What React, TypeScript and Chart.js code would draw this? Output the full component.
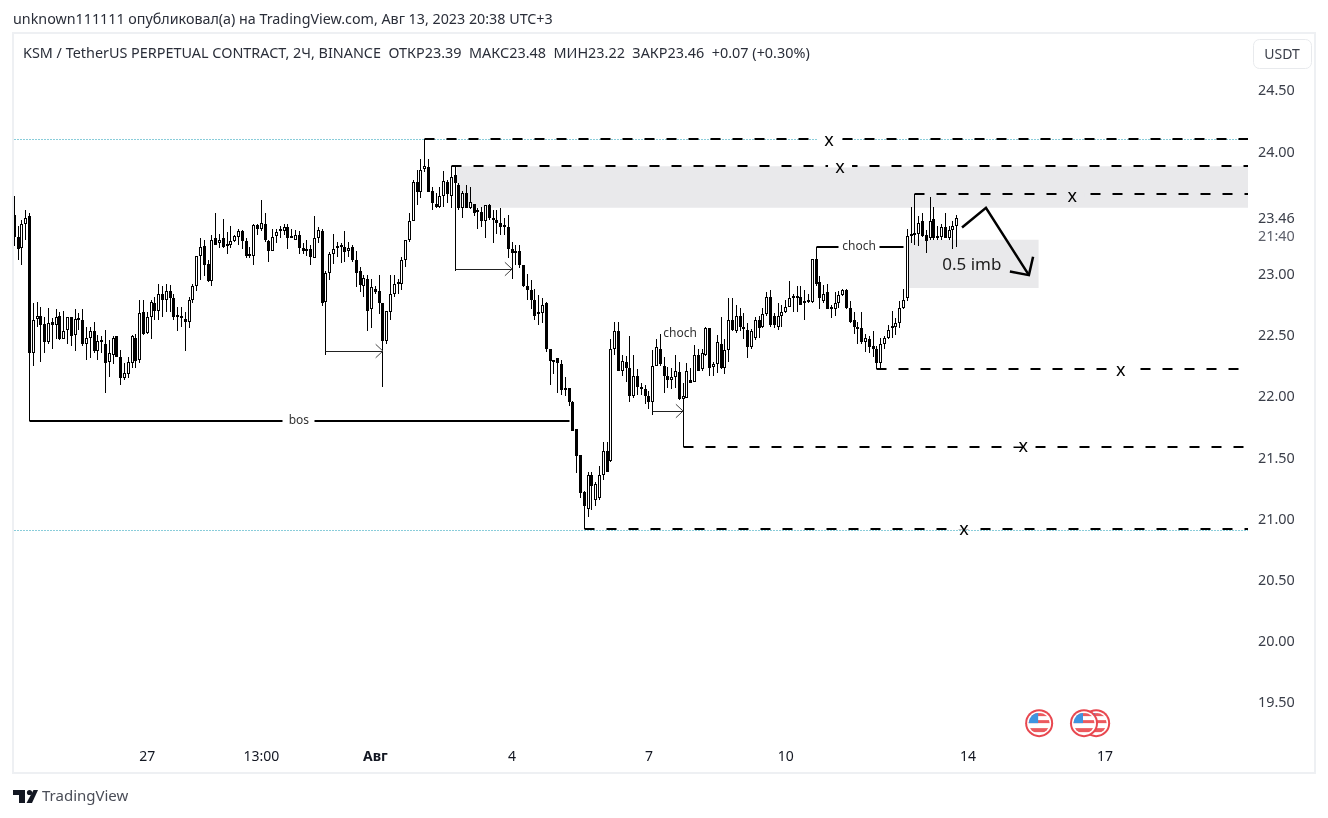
import React, { useEffect, useRef } from "react";
import { Chart, registerables } from "chart.js";

Chart.register(...registerables);

const opens = [
  23.48,23.30,23.21,23.41,23.47,22.35,22.63,22.66,22.59,22.44,
  22.61,22.58,22.66,22.47,22.54,22.65,22.50,22.63,22.62,22.43,
  22.48,22.53,22.37,22.45,22.43,22.28,22.34,22.49,22.32,22.15,
  22.18,22.27,22.48,22.30,22.69,22.52,22.65,22.76,22.70,22.84,
  22.79,22.86,22.80,22.66,22.66,22.63,22.61,22.79,22.90,23.15,
  23.23,23.08,22.94,23.29,23.25,23.29,23.23,23.24,23.27,23.30,
  23.35,23.27,23.16,23.15,23.40,23.37,23.41,23.27,23.19,23.31,
  23.35,23.35,23.38,23.30,23.28,23.32,23.21,23.20,23.20,23.13,
  23.29,23.35,22.77,23.01,23.16,23.21,23.22,23.22,23.19,23.22,
  23.11,23.02,22.90,22.96,22.71,22.88,22.86,22.76,22.45,22.69,
  22.84,22.93,22.92,23.11,23.28,23.43,23.75,23.67,23.86,23.87,
  23.68,23.57,23.55,23.64,23.75,23.64,23.81,23.73,23.54,23.66,
  23.54,23.57,23.52,23.51,23.43,23.56,23.44,23.44,23.42,23.39,
  23.38,23.20,23.17,23.19,23.07,22.90,22.87,22.79,22.67,22.68,
  22.76,22.39,22.29,22.31,22.26,22.05,22.07,21.95,21.73,21.52,
  21.22,21.08,21.36,21.15,21.17,21.36,21.55,21.47,22.39,22.53,
  22.21,22.28,22.23,22.00,22.17,22.07,22.06,22.00,21.95,22.25,
  22.39,22.25,22.17,22.13,22.16,22.20,21.98,21.99,22.13,22.12,
  22.34,22.22,22.34,22.56,22.24,22.26,22.43,22.23,22.38,22.62,
  22.53,22.66,22.56,22.54,22.40,22.48,22.62,22.57,22.67,22.81,
  22.66,22.57,22.66,22.69,22.73,22.80,22.81,22.81,22.77,22.77,
  22.77,23.12,22.93,22.78,22.85,22.71,22.71,22.76,22.83,22.87,
  22.72,22.62,22.57,22.56,22.44,22.47,22.41,22.39,22.27,22.43,
  22.48,22.56,22.57,22.60,22.72,22.80,23.31,23.33,23.33,23.43,
  23.32,23.29,23.45,23.29,23.30,23.38,23.29,23.36,23.39,
];
const highs = [
  23.64,23.39,23.44,23.52,23.50,22.76,22.77,22.73,22.65,22.72,
  22.64,22.71,22.69,22.70,22.65,22.65,22.71,22.68,22.71,22.57,
  22.57,22.61,22.50,22.49,22.54,22.46,22.49,22.49,22.38,22.27,
  22.32,22.50,22.51,22.79,22.79,22.69,22.79,22.81,22.92,22.90,
  22.92,22.91,22.84,22.73,22.73,22.69,22.81,22.92,23.15,23.29,
  23.28,23.11,23.32,23.50,23.33,23.45,23.34,23.39,23.32,23.37,
  23.36,23.29,23.22,23.41,23.41,23.60,23.50,23.28,23.37,23.37,
  23.39,23.41,23.41,23.37,23.36,23.35,23.25,23.28,23.24,23.47,
  23.38,23.37,23.02,23.18,23.33,23.26,23.25,23.35,23.26,23.24,
  23.19,23.06,22.99,22.99,22.96,22.90,22.99,22.76,22.70,22.99,
  22.99,22.96,23.14,23.28,23.50,23.77,23.85,23.94,24.10,23.94,
  23.71,23.66,23.71,23.84,23.77,23.88,23.88,23.74,23.68,23.73,
  23.71,23.57,23.54,23.55,23.56,23.57,23.52,23.52,23.54,23.46,
  23.48,23.26,23.24,23.24,23.07,23.00,22.95,22.88,22.83,22.80,
  22.77,22.39,22.30,22.31,22.30,22.16,22.07,21.96,21.73,21.52,
  21.23,21.38,21.38,21.30,21.43,21.63,21.63,22.47,22.61,22.61,
  22.34,22.33,22.49,22.34,22.22,22.11,22.09,22.04,22.38,22.47,
  22.51,22.32,22.24,22.23,22.34,22.28,22.11,22.27,22.23,22.42,
  22.39,22.39,22.57,22.56,22.28,22.50,22.65,22.47,22.80,22.80,
  22.75,22.72,22.68,22.60,22.55,22.65,22.66,22.72,22.85,22.87,
  22.68,22.76,22.75,22.79,22.94,22.84,22.90,22.90,22.87,22.84,
  23.12,23.22,22.98,22.91,22.92,22.75,22.85,22.86,22.88,22.88,
  22.78,22.69,22.61,22.69,22.51,22.49,22.53,22.41,22.48,22.49,
  22.58,22.70,22.64,22.78,22.88,23.37,23.55,23.65,23.47,23.50,
  23.36,23.63,23.55,23.39,23.41,23.50,23.39,23.43,23.48,
];
const lows = [
  23.23,23.11,23.07,23.28,21.80,22.25,22.57,22.28,22.35,22.43,
  22.39,22.47,22.46,22.47,22.43,22.41,22.37,22.54,22.41,22.30,
  22.31,22.35,22.30,22.35,22.03,22.16,22.26,22.32,22.09,22.13,
  22.15,22.23,22.23,22.27,22.50,22.51,22.47,22.62,22.62,22.65,
  22.69,22.69,22.62,22.53,22.57,22.37,22.56,22.76,22.86,22.95,
  22.98,22.93,22.90,23.24,23.21,23.21,23.16,23.21,23.26,23.24,
  23.20,23.13,23.13,23.07,23.32,23.35,23.26,23.10,23.19,23.25,
  23.29,23.32,23.20,23.29,23.28,23.16,23.16,23.15,23.07,23.13,
  23.25,22.74,22.34,22.95,23.08,23.14,23.09,23.10,23.14,23.10,
  22.89,22.85,22.81,22.53,22.56,22.84,22.67,22.08,22.43,22.62,
  22.81,22.84,22.87,23.06,23.26,23.43,23.56,23.62,23.83,23.67,
  23.52,23.54,23.54,23.55,23.58,23.54,23.02,23.52,23.46,23.54,
  23.53,23.47,23.37,23.38,23.29,23.44,23.25,23.33,23.32,23.32,
  23.13,22.96,23.07,23.05,22.89,22.79,22.71,22.62,22.58,22.60,
  22.36,22.09,22.18,22.03,22.01,22.00,21.92,21.72,21.37,21.17,
  20.92,21.01,21.07,21.10,21.15,21.32,21.38,21.46,22.34,22.21,
  22.17,22.12,21.95,21.99,22.01,22.01,21.94,21.90,21.85,22.25,
  22.25,22.03,22.07,22.06,22.07,21.97,21.59,21.99,22.11,22.12,
  22.21,22.21,22.33,22.17,22.17,22.19,22.22,22.18,22.28,22.53,
  22.52,22.53,22.47,22.31,22.39,22.46,22.48,22.56,22.66,22.57,
  22.56,22.54,22.57,22.68,22.73,22.69,22.69,22.75,22.62,22.76,
  22.76,22.90,22.71,22.76,22.71,22.64,22.66,22.72,22.82,22.71,
  22.60,22.51,22.43,22.43,22.36,22.35,22.32,22.22,22.22,22.39,
  22.47,22.48,22.50,22.56,22.71,22.78,23.25,23.24,23.23,23.30,
  23.17,23.28,23.28,23.28,23.28,23.29,23.28,23.20,23.22,
];
const closes = [
  23.30,23.20,23.41,23.46,22.35,22.62,22.66,22.58,22.44,22.60,
  22.58,22.65,22.47,22.53,22.65,22.49,22.63,22.62,22.43,22.48,
  22.53,22.37,22.45,22.44,22.27,22.35,22.48,22.32,22.15,22.19,
  22.28,22.49,22.29,22.68,22.51,22.65,22.77,22.70,22.84,22.79,
  22.86,22.80,22.65,22.65,22.64,22.61,22.79,22.90,23.15,23.22,
  23.07,22.94,23.28,23.24,23.28,23.22,23.24,23.27,23.31,23.35,
  23.27,23.15,23.15,23.40,23.37,23.42,23.28,23.19,23.30,23.34,
  23.35,23.38,23.29,23.29,23.32,23.21,23.19,23.19,23.14,23.29,
  23.36,22.76,23.01,23.16,23.20,23.22,23.22,23.18,23.21,23.11,
  23.01,22.91,22.97,22.70,22.89,22.85,22.76,22.45,22.70,22.84,
  22.92,22.92,23.11,23.28,23.43,23.75,23.67,23.85,23.88,23.67,
  23.58,23.55,23.64,23.76,23.65,23.79,23.74,23.54,23.66,23.54,
  23.59,23.50,23.51,23.43,23.56,23.46,23.45,23.42,23.38,23.38,
  23.20,23.17,23.19,23.07,22.90,22.87,22.79,22.66,22.68,22.75,
  22.39,22.29,22.28,22.27,22.05,22.07,21.95,21.72,21.51,21.21,
  21.10,21.36,21.27,21.28,21.36,21.55,21.38,22.39,22.53,22.21,
  22.29,22.23,22.00,22.17,22.08,22.06,22.00,21.95,22.25,22.40,
  22.26,22.17,22.13,22.16,22.21,21.98,22.00,22.21,22.11,22.34,
  22.21,22.35,22.56,22.23,22.26,22.44,22.23,22.38,22.62,22.54,
  22.66,22.57,22.55,22.40,22.53,22.62,22.56,22.67,22.81,22.58,
  22.58,22.66,22.69,22.73,22.80,22.81,22.80,22.75,22.76,22.78,
  23.12,22.92,22.80,22.84,22.71,22.73,22.76,22.83,22.87,22.72,
  22.61,22.57,22.55,22.44,22.48,22.40,22.39,22.27,22.43,22.48,
  22.54,22.57,22.60,22.72,22.79,23.31,23.32,23.32,23.42,23.31,
  23.27,23.43,23.29,23.31,23.38,23.29,23.36,23.39,23.46,
];

const priceTicks = [19.5, 20, 20.5, 21, 21.5, 22, 22.5, 23, 24, 24.5];
const timeTickBars = [35, 65, 95, 131, 167, 203, 251, 287];
const timeTickLabels = ["27", "13:00", "Авг", "4", "7", "10", "14", "17"];
const boldTimeTick = "Авг";

const xMin = -0.08;
const xMax = 324.66;
const yMin = 19.184;
const yMax = 24.952;

const dashedStarts = [108, 115, 237, 227, 176, 150];
const dashedPrices = [24.10, 23.88, 23.65, 22.22, 21.59, 20.92];
const dashedEnds = [xMax, xMax, xMax, 322.5, xMax, xMax];
const dottedPrices = [24.10, 20.905];

const boxStarts = [116.5, 235.2];
const boxEnds = [xMax, 269.6];
const boxTops = [23.88, 23.28];
const boxBottoms = [23.54, 22.885];

const solidStarts = [4, 79.1, 211, 227.8];
const solidEnds = [70.7, 146.2, 216.8, 233.9];
const solidPrices = [21.80, 21.80, 23.22, 23.22];

const arrowStarts = [82, 116, 168];
const arrowEnds = [97, 131, 176];
const arrowPrices = [22.37, 23.04, 21.88];

const bigArrowBars = [249.4, 255.7, 267.0];
const bigArrowPrices = [23.38, 23.54, 22.99];
const bigHeadBars = [268.1, 267.0, 262.0];
const bigHeadPrices = [23.14, 22.99, 23.02];

const noteTexts = ["bos", "choch", "choch", "0.5 imb", "x", "x", "x", "x", "x", "x"];
const noteBars = [74.9, 175.2, 222.3, 252, 214.4, 217.3, 278.4, 291.2, 265.5, 249.9];
const notePrices = [21.80, 22.51, 23.22, 23.075, 24.09, 23.87, 23.63, 22.21, 21.59, 20.91];
const noteSizes = [12, 12, 12, 17, 18, 18, 18, 18, 18, 18];
const noteGaps = ["", "", "", "", "#ffffff", "#ffffff", "#e9e9eb", "#ffffff", "#ffffff", "#ffffff"];

const flagBars = [269.7, 284.7, 281.5];
const flagPrice = 19.33;

const authorLine = "unknown111111 опубликовал(а) на TradingView.com, Авг 13, 2023 20:38 UTC+3";
const legendLine = "KSM / TetherUS PERPETUAL CONTRACT, 2Ч, BINANCE  ОТКР23.39  МАКС23.48  МИН23.22  ЗАКР23.46  +0.07 (+0.30%)";
const lastPrice = 23.46;
const countdown = "21:40";
const currency = "USDT";
const brand = "TradingView";

const FONT = '"Noto Sans", sans-serif';
const INK = "#131722";

const bars = opens.map((_, i) => i);

const lineSet = (
  xs: number[],
  ys: number[],
  color: string,
  width: number,
  dash: number[] = [],
  snap = true,
  order = 1
) => ({
  type: "line" as const,
  data: xs.map((x, i) => ({ x, y: ys[i] })),
  borderColor: color,
  borderWidth: width,
  borderDash: dash,
  pointRadius: 0,
  tension: 0,
  fill: false,
  snap,
  order,
});

const snapPlugin = {
  id: "snap",
  beforeDatasetsDraw(chart: any) {
    chart.data.datasets.forEach((ds: any, di: number) => {
      const meta = chart.getDatasetMeta(di);
      if (meta.type === "bar") {
        meta.data.forEach((el: any) => {
          el.x = Math.floor(el.x) + (ds.maxBarThickness % 2 ? 0.5 : 0);
          const top = Math.round(Math.min(el.y, el.base));
          let bottom = Math.round(Math.max(el.y, el.base));
          if (bottom === top) bottom = top + 1;
          el.y = top;
          el.base = bottom;
          el.height = bottom - top;
        });
      } else if (ds.snap) {
        meta.data.forEach((el: any) => {
          el.x = Math.floor(el.x) + 0.5;
          el.y = ds.borderWidth % 2 ? Math.floor(el.y) + 0.5 : Math.round(el.y);
        });
      }
    });
  },
};

const drawFlag = (ctx: CanvasRenderingContext2D, cx: number, cy: number) => {
  ctx.save();
  ctx.beginPath();
  ctx.arc(cx, cy, 14, 0, Math.PI * 2);
  ctx.fillStyle = "#e8474f";
  ctx.fill();
  ctx.beginPath();
  ctx.arc(cx, cy, 12, 0, Math.PI * 2);
  ctx.fillStyle = "#ffffff";
  ctx.fill();
  ctx.beginPath();
  ctx.arc(cx, cy, 10.5, 0, Math.PI * 2);
  ctx.clip();
  ctx.fillStyle = "#ffffff";
  ctx.fillRect(cx - 12, cy - 12, 24, 24);
  ctx.fillStyle = "#ec5a5f";
  ctx.fillRect(cx - 12, cy - 10, 24, 3);
  ctx.fillRect(cx - 12, cy - 3, 24, 3);
  ctx.fillRect(cx - 12, cy + 5, 24, 4);
  ctx.fillStyle = "#3f94e0";
  ctx.fillRect(cx - 12, cy - 11, 11, 11);
  ctx.restore();
};

const chromePlugin = {
  id: "chrome",
  afterDatasetsDraw(chart: any) {
    const { ctx, scales } = chart;
    ctx.save();
    ctx.textAlign = "center";
    ctx.textBaseline = "middle";
    noteTexts.forEach((t, i) => {
      const nx = scales.x.getPixelForValue(noteBars[i]);
      const ny = scales.y.getPixelForValue(notePrices[i]);
      if (noteGaps[i]) {
        ctx.fillStyle = noteGaps[i];
        ctx.fillRect(nx - 12, ny - 4, 24, 4);
      }
      ctx.font = `${noteSizes[i]}px ${FONT}`;
      ctx.fillStyle = t === "x" ? "#000000" : t === "0.5 imb" ? "#1c1c1c" : "#333333";
      ctx.fillText(t, nx, ny);
    });
    flagBars.forEach((b) => drawFlag(ctx, scales.x.getPixelForValue(b), scales.y.getPixelForValue(flagPrice)));
    ctx.restore();
  },
  afterDraw(chart: any) {
    const { ctx, scales } = chart;
    ctx.save();
    ctx.strokeStyle = "#eef0f3";
    ctx.lineWidth = 2;
    ctx.strokeRect(13, 33, 1302, 740);
    ctx.textBaseline = "middle";
    ctx.textAlign = "left";
    ctx.font = `14.3px ${FONT}`;
    ctx.fillStyle = "#2a2e39";
    ctx.fillText(authorLine, 13, 20);
    ctx.font = `14.4px ${FONT}`;
    ctx.fillText(legendLine, 23, 54);
    const py = scales.y.getPixelForValue(lastPrice);
    ctx.fillStyle = "#3a3e49";
    ctx.fillText(lastPrice.toFixed(2), 1258, py + 1);
    ctx.fillStyle = "#5d606b";
    ctx.fillText(countdown, 1258, py + 19);
    ctx.beginPath();
    ctx.roundRect(1253.5, 39.5, 58, 29, 6);
    ctx.fillStyle = "#ffffff";
    ctx.fill();
    ctx.strokeStyle = "#e8eaed";
    ctx.lineWidth = 1;
    ctx.stroke();
    ctx.fillStyle = "#3a3e49";
    ctx.textAlign = "center";
    ctx.font = `14px ${FONT}`;
    ctx.fillText(currency, 1282, 55);
    ctx.fillStyle = "#131722";
    ctx.fillRect(13, 790, 12, 5);
    ctx.fillRect(19, 790, 6, 13);
    ctx.beginPath();
    ctx.arc(29.5, 792.5, 2.6, 0, Math.PI * 2);
    ctx.fill();
    ctx.beginPath();
    ctx.moveTo(33.5, 790);
    ctx.lineTo(38, 790);
    ctx.lineTo(32, 803);
    ctx.lineTo(26.5, 803);
    ctx.closePath();
    ctx.fill();
    ctx.textAlign = "left";
    ctx.font = `15px ${FONT}`;
    ctx.fillStyle = "#4a4d57";
    ctx.fillText(brand, 42, 797);
    ctx.restore();
  },
};

export default function App() {
  const ref = useRef<HTMLCanvasElement | null>(null);

  useEffect(() => {
    if (!ref.current) return;
    const boxes = boxStarts.map((s, i) => ({
      ...lineSet([s, boxEnds[i]], [boxTops[i], boxTops[i]], "rgba(0,0,0,0)", 0, [], false, 10),
      fill: { value: boxBottoms[i] },
      backgroundColor: "#e9e9eb",
    }));
    const dotted = dottedPrices.map((p) =>
      lineSet([xMin, xMax], [p, p], "#149ab5", 1, [1, 2], true, 3)
    );
    const dashed = dashedStarts.map((s, i) =>
      lineSet([s, dashedEnds[i]], [dashedPrices[i], dashedPrices[i]], "#000000", 2, [10, 12])
    );
    const solid = solidStarts.map((s, i) =>
      lineSet([s, solidEnds[i]], [solidPrices[i], solidPrices[i]], "#000000", 2)
    );
    const arrows = arrowStarts.flatMap((s, i) => [
      lineSet([s, arrowEnds[i]], [arrowPrices[i], arrowPrices[i]], "#222222", 1),
      lineSet(
        [arrowEnds[i] - 1.9, arrowEnds[i], arrowEnds[i] - 1.9],
        [arrowPrices[i] + 0.055, arrowPrices[i], arrowPrices[i] - 0.055],
        "#444444",
        1,
        [],
        false
      ),
    ]);
    const big = [
      lineSet(bigArrowBars, bigArrowPrices, "#000000", 2.5, [], false),
      lineSet(bigHeadBars, bigHeadPrices, "#000000", 2.5, [], false),
    ];

    const chart = new Chart(ref.current, {
      type: "bar",
      data: {
        datasets: [
          ...boxes,
          {
            type: "bar",
            data: bars.map((i) => ({ x: i, y: [lows[i], highs[i]] })),
            backgroundColor: "#000000",
            grouped: false,
            maxBarThickness: 1,
            barThickness: 1,
            borderWidth: 0,
            inflateAmount: 0,
            order: 6,
          },
          {
            type: "bar",
            data: bars.map((i) => ({ x: i, y: [opens[i], closes[i]] })),
            backgroundColor: bars.map((i) => (closes[i] >= opens[i] ? "#ffffff" : "#000000")),
            borderColor: "#000000",
            borderWidth: 1,
            borderSkipped: false,
            grouped: false,
            maxBarThickness: 3,
            barThickness: 3,
            minBarLength: 2,
            inflateAmount: 0,
            order: 5,
          },
          ...dotted,
          ...dashed,
          ...solid,
          ...arrows,
          ...big,
        ] as any,
      },
      options: {
        responsive: false,
        animation: false,
        layout: { padding: { left: 14, top: 35, right: 13, bottom: 45 } },
        plugins: { legend: { display: false }, tooltip: { enabled: false }, title: { display: false } },
        scales: {
          x: {
            type: "linear",
            min: xMin,
            max: xMax,
            offset: false,
            grid: { display: false, drawTicks: false },
            border: { display: false },
            afterFit: (s: any) => {
              s.height = 32;
            },
            afterBuildTicks: (s: any) => {
              s.ticks = timeTickBars.map((value) => ({ value }));
            },
            ticks: {
              autoSkip: false,
              maxRotation: 0,
              padding: 8,
              color: INK,
              font: (c: any) => ({
                family: FONT,
                size: 14,
                weight: timeTickLabels[timeTickBars.indexOf(c.tick?.value)] === boldTimeTick ? "bold" : "normal",
              }),
              callback: (v: any) => timeTickLabels[timeTickBars.indexOf(Number(v))] ?? "",
            },
          },
          y: {
            type: "linear",
            position: "right",
            min: yMin,
            max: yMax,
            grid: { display: false, drawTicks: false },
            border: { display: false },
            afterFit: (s: any) => {
              s.width = 67;
            },
            afterBuildTicks: (s: any) => {
              s.ticks = priceTicks.map((value) => ({ value }));
            },
            ticks: {
              padding: 10,
              labelOffset: 1,
              color: "#3a3e49",
              font: { family: FONT, size: 14.4 },
              callback: (v: any) => Number(v).toFixed(2),
            },
          },
        },
      } as any,
      plugins: [snapPlugin, chromePlugin],
    });
    return () => chart.destroy();
  }, []);

  return (
    <canvas
      ref={ref}
      width={1328}
      height={818}
      style={{ position: "absolute", left: 0, top: 0, display: "block" }}
    />
  );
}
